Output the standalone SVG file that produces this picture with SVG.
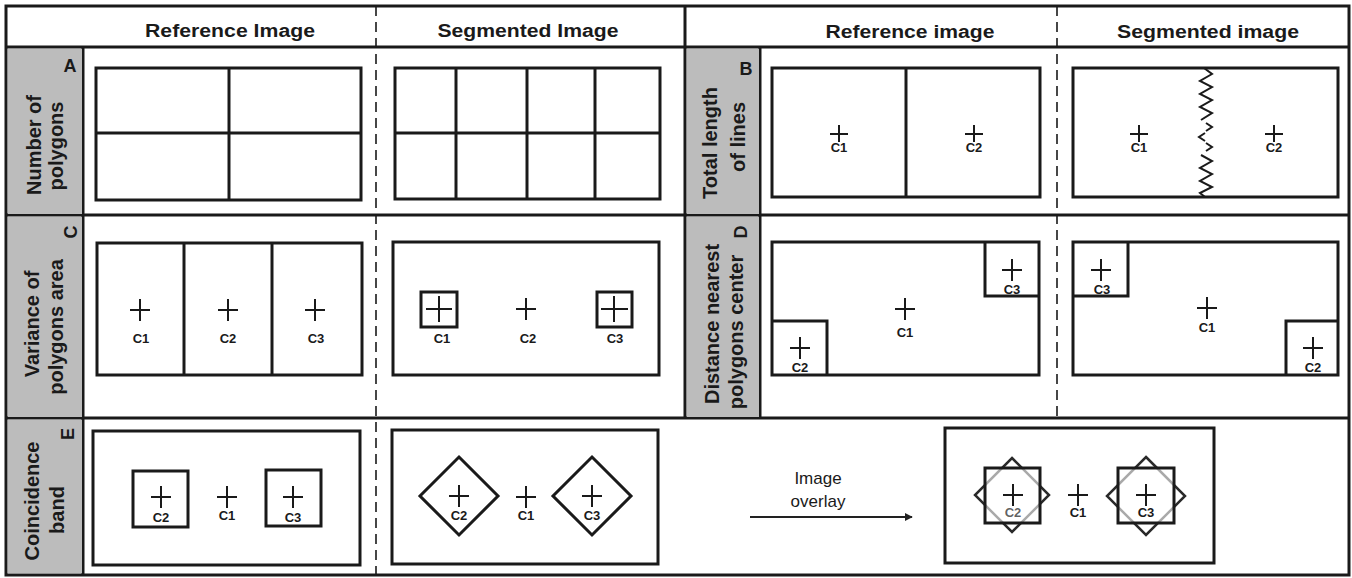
<svg xmlns="http://www.w3.org/2000/svg" width="1352" height="578" viewBox="0 0 1352 578">
<defs>
<marker id="ah" viewBox="0 0 10 10" refX="9" refY="5" markerWidth="4" markerHeight="4" orient="auto" markerUnits="strokeWidth">
<path d="M0,0 L10,5 L0,10 z" fill="#222"/>
</marker>
<path id="cr" d="M-10,0 H10 M0,-11 V11"/>
</defs>
<style>
text{font-family:"Liberation Sans",Arial,sans-serif;fill:#1a1a1a}
.hd{font-size:18px;font-weight:bold;text-anchor:middle}
.lb{font-size:20px;font-weight:bold;text-anchor:middle}
.let{font-size:18px;font-weight:bold;text-anchor:middle}
.c{font-size:13px;font-weight:bold;text-anchor:middle}
.ov{font-size:17px;text-anchor:middle}
.frame{fill:none;stroke:#1a1a1a;stroke-width:3}
.grid{fill:none;stroke:#1a1a1a;stroke-width:3}
.dash{fill:none;stroke:#1a1a1a;stroke-width:1.6;stroke-dasharray:10 6}
.box{fill:#ffffff;stroke:#1a1a1a;stroke-width:3}
.in{fill:none;stroke:#1a1a1a;stroke-width:3}
.gray{fill:#bcbcbc}
.x{fill:none;stroke:#1a1a1a;stroke-width:2}
.dd{fill:none;stroke:#2a2a2a;stroke-width:2.5}
.veil{fill:#ffffff;fill-opacity:0.6;stroke:none}
</style>
<rect x="0" y="0" width="1352" height="578" fill="#ffffff"/>

<g id="table">
<rect x="6" y="6" width="1343" height="569" class="frame"/>
<line x1="6" y1="47" x2="1349" y2="47" class="grid"/>
<line x1="6" y1="215" x2="1349" y2="215" class="grid"/>
<line x1="6" y1="418" x2="1349" y2="418" class="grid"/>
<line x1="83" y1="47" x2="83" y2="575" class="grid"/>
<line x1="685" y1="6" x2="685" y2="418" class="grid"/>
<line x1="760" y1="47" x2="760" y2="418" class="grid"/>
<line x1="376" y1="6" x2="376" y2="575" class="dash"/>
<line x1="1057" y1="6" x2="1057" y2="418" class="dash"/>
</g>

<g id="headers">
<text x="230" y="37" class="hd" textLength="170" lengthAdjust="spacingAndGlyphs">Reference Image</text>
<text x="528" y="37" class="hd" textLength="181" lengthAdjust="spacingAndGlyphs">Segmented Image</text>
<text x="910" y="38" class="hd" textLength="169" lengthAdjust="spacingAndGlyphs">Reference image</text>
<text x="1208" y="38" class="hd" textLength="182" lengthAdjust="spacingAndGlyphs">Segmented image</text>
</g>

<g id="label-A">
<rect x="8" y="49" width="74" height="165" class="gray"/>
<text x="70" y="72" class="let">A</text>
<text transform="translate(41,145) rotate(-90)" class="lb">Number of</text>
<text transform="translate(63,146) rotate(-90)" class="lb">polygons</text>
</g>
<g id="label-B">
<rect x="687" y="49" width="72" height="165" class="gray"/>
<text x="746" y="75" class="let">B</text>
<text transform="translate(717,143) rotate(-90)" class="lb">Total length</text>
<text transform="translate(745,137) rotate(-90)" class="lb">of lines</text>
</g>
<g id="label-C">
<rect x="8" y="217" width="74" height="200" class="gray"/>
<text transform="translate(77,232) rotate(-90)" class="let">C</text>
<text transform="translate(39,324) rotate(-90)" class="lb">Variance of</text>
<text transform="translate(63,327) rotate(-90)" class="lb">polygons area</text>
</g>
<g id="label-D">
<rect x="687" y="217" width="72" height="200" class="gray"/>
<text transform="translate(747,232) rotate(-90)" class="let">D</text>
<text transform="translate(719,324) rotate(-90)" class="lb">Distance nearest</text>
<text transform="translate(743,332) rotate(-90)" class="lb">polygons center</text>
</g>
<g id="label-E">
<rect x="8" y="420" width="74" height="153" class="gray"/>
<text transform="translate(74,434) rotate(-90)" class="let">E</text>
<text transform="translate(39,501) rotate(-90)" class="lb">Coincidence</text>
<text transform="translate(64,510) rotate(-90)" class="lb">band</text>
</g>

<g id="A-reference">
<rect x="96" y="68" width="265" height="132" class="box"/>
<line x1="229" y1="68" x2="229" y2="200" class="in"/>
<line x1="96" y1="133" x2="361" y2="133" class="in"/>
</g>
<g id="A-segmented">
<rect x="395" y="68" width="265" height="131" class="box"/>
<line x1="456" y1="68" x2="456" y2="199" class="in"/>
<line x1="527" y1="68" x2="527" y2="199" class="in"/>
<line x1="595" y1="68" x2="595" y2="199" class="in"/>
<line x1="395" y1="133" x2="660" y2="133" class="in"/>
</g>

<g id="B-reference">
<rect x="772" y="68" width="268" height="129" class="box"/>
<line x1="906" y1="68" x2="906" y2="197" class="in"/>
<path d="M830,134 H848 M839,125 V142" class="x"/>
<text x="839" y="152" class="c">C1</text>
<path d="M965,134 H983 M974,125 V142" class="x"/>
<text x="974" y="152" class="c">C2</text>
</g>
<g id="B-segmented">
<rect x="1073" y="68" width="265" height="129" class="box"/>
<polyline points="1204,68 1212,74 1200,81 1212,87 1200,94 1212,100 1200,107 1212,113 1201,120" class="x" stroke-width="2.6"/>
<polyline points="1206,123 1212,127 1206,131" class="x" stroke-width="2.6"/>
<polyline points="1205,133 1199,137 1205,141" class="x" stroke-width="2.6"/>
<polyline points="1206,143 1212,147 1206,151" class="x" stroke-width="2.6"/>
<polyline points="1201,155 1212,161 1200,168 1212,174 1200,181 1212,187 1200,193 1205,197" class="x" stroke-width="2.6"/>
<path d="M1130,134 H1148 M1139,125 V142" class="x"/>
<text x="1139" y="152" class="c">C1</text>
<path d="M1265,134 H1283 M1274,125 V142" class="x"/>
<text x="1274" y="152" class="c">C2</text>
</g>

<g id="C-reference">
<rect x="97" y="243" width="265" height="132" class="box"/>
<line x1="184" y1="243" x2="184" y2="375" class="in"/>
<line x1="272" y1="243" x2="272" y2="375" class="in"/>
<use href="#cr" x="140" y="310" class="x"/>
<text x="141" y="343" class="c">C1</text>
<use href="#cr" x="228" y="310" class="x"/>
<text x="228" y="343" class="c">C2</text>
<use href="#cr" x="315" y="310" class="x"/>
<text x="316" y="343" class="c">C3</text>
</g>
<g id="C-segmented">
<rect x="393" y="242" width="266" height="133" class="box"/>
<rect x="421" y="292" width="36" height="35" class="in"/>
<path d="M426,309 H452 M439,296 V322" class="x"/>
<text x="442" y="343" class="c">C1</text>
<use href="#cr" x="526" y="309" class="x"/>
<text x="528" y="343" class="c">C2</text>
<rect x="597" y="292" width="35" height="35" class="in"/>
<path d="M601,309 H628 M614,296 V322" class="x"/>
<text x="615" y="343" class="c">C3</text>
</g>

<g id="D-reference">
<rect x="772" y="242" width="267" height="133" class="box"/>
<path d="M985,242 V296 H1039" class="in"/>
<path d="M772,321 H827 V375" class="in"/>
<use href="#cr" x="905" y="309" class="x"/>
<text x="905" y="337" class="c">C1</text>
<use href="#cr" x="1012" y="270" class="x"/>
<text x="1012" y="294" class="c">C3</text>
<use href="#cr" x="800" y="348" class="x"/>
<text x="800" y="372" class="c">C2</text>
</g>
<g id="D-segmented">
<rect x="1073" y="242" width="265" height="133" class="box"/>
<path d="M1128,242 V296 H1073" class="in"/>
<path d="M1338,321 H1286 V375" class="in"/>
<use href="#cr" x="1101" y="270" class="x"/>
<text x="1102" y="294" class="c">C3</text>
<use href="#cr" x="1207" y="308" class="x"/>
<text x="1207" y="332" class="c">C1</text>
<use href="#cr" x="1313" y="348" class="x"/>
<text x="1313" y="372" class="c">C2</text>
</g>

<g id="E-reference">
<rect x="93" y="431" width="267" height="134" class="box"/>
<rect x="133" y="471" width="55" height="56" class="in"/>
<use href="#cr" x="161" y="497" class="x"/>
<text x="161" y="522" class="c">C2</text>
<use href="#cr" x="227" y="497" class="x"/>
<text x="227" y="520" class="c">C1</text>
<rect x="266" y="470" width="55" height="56" class="in"/>
<use href="#cr" x="293" y="497" class="x"/>
<text x="293" y="522" class="c">C3</text>
</g>
<g id="E-segmented">
<rect x="392" y="430" width="266" height="134" class="box"/>
<polygon points="459,457 498,496 459,535 420,496" class="in"/>
<use href="#cr" x="459" y="496" class="x"/>
<text x="459" y="520" class="c">C2</text>
<use href="#cr" x="526" y="497" class="x"/>
<text x="526" y="520" class="c">C1</text>
<polygon points="592,457 631,496 592,535 553,496" class="in"/>
<use href="#cr" x="592" y="496" class="x"/>
<text x="592" y="520" class="c">C3</text>
</g>

<g id="overlay-label">
<text x="818" y="484" class="ov">Image</text>
<text x="818" y="507" class="ov">overlay</text>
</g>

<g id="E-overlay">
<rect x="945" y="428" width="269" height="135" class="box"/>
<polygon points="1012,458 1049,495 1012,532 975,495" class="dd"/>
<rect x="986" y="469" width="53" height="53" class="veil"/>
<rect x="985" y="468" width="55" height="55" class="in"/>
<use href="#cr" x="1013" y="495" class="x"/>
<text x="1013" y="517" class="c" fill-opacity="0.7">C2</text>
<use href="#cr" x="1078" y="495" class="x"/>
<text x="1078" y="517" class="c">C1</text>
<polygon points="1146,457 1185,496 1146,535 1107,496" class="dd"/>
<rect x="1119" y="469" width="54" height="53" class="veil"/>
<rect x="1118" y="468" width="56" height="55" class="in"/>
<use href="#cr" x="1146" y="495" class="x"/>
<text x="1146" y="517" class="c">C3</text>
</g>

<g id="connectors">
<line x1="750" y1="517" x2="912" y2="517" stroke="#222" stroke-width="2" marker-end="url(#ah)"/>
</g>
</svg>
